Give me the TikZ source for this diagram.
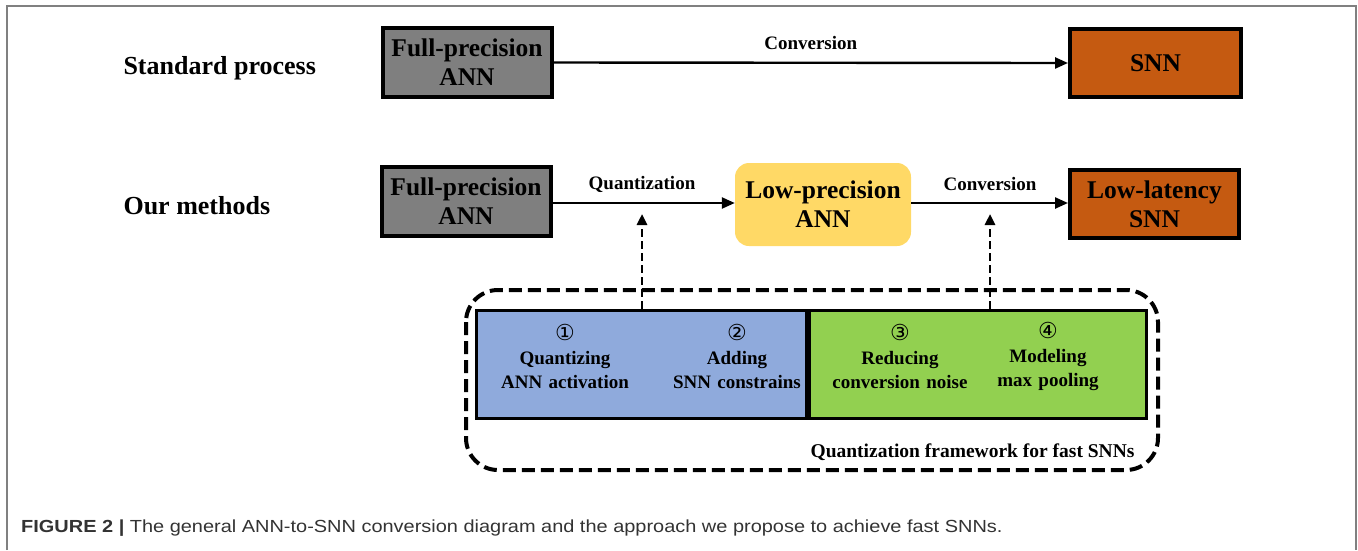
\documentclass[tikz,border=0pt]{standalone}
\usepackage{fontspec}
\setmainfont{Liberation Serif}
\newfontfamily\capfont{Liberation Sans}
\newfontfamily\symfont{DejaVu Sans}
\usetikzlibrary{arrows.meta,positioning}

\definecolor{fpgray}{HTML}{7F7F7F}
\definecolor{snnorange}{HTML}{C55A11}
\definecolor{lpyellow}{HTML}{FFD966}
\definecolor{stepblue}{HTML}{8FAADC}
\definecolor{stepgreen}{HTML}{92D050}
\definecolor{captext}{HTML}{333333}

\newcommand{\stepnum}[1]{{\symfont\mdseries\fontsize{22}{24}\selectfont #1}}

\tikzset{
  bigtext/.style={font=\bfseries\fontsize{25.5}{29}\selectfont, align=center},
  rowtext/.style={font=\bfseries\fontsize{26}{29}\selectfont},
  smalltext/.style={font=\bfseries\fontsize{19}{24}\selectfont, align=center},
  stagebox/.style={draw=black, line width=4pt, bigtext, inner sep=0pt},
  flow/.style={line width=2.4pt, -{Triangle[length=13pt,width=11pt]}},
  hint/.style={line width=2.6pt, dash pattern=on 8pt off 4pt, -{Triangle[length=11pt,width=10pt]}},
  steplabel/.style={smalltext, text width=180pt},
}

\begin{document}
\begin{tikzpicture}[x=1pt,y=-1pt]
\useasboundingbox (0,0) rectangle (1358,550);
% outer frame
\draw[gray, line width=2pt] (7,550) -- (7,6) -- (1356,6) -- (1356,550);

% row titles
\node[rowtext, anchor=west] (stdlbl) at (120,68) {Standard process};
\node[rowtext, anchor=west] (ourlbl) at (120,206) {Our methods};

% standard process
\node[stagebox, fill=fpgray, minimum width=169pt, minimum height=69pt] (fp1) at (467,62.5) {Full-precision\\ANN};
\node[stagebox, fill=snnorange, minimum width=171pt, minimum height=68pt] (snn1) at (1155.5,63) {SNN};
\draw[flow] (fp1.east) -- node[smalltext, above=9pt] (conv1) {Conversion} (snn1.west);

% proposed pipeline
\node[stagebox, fill=fpgray, minimum width=169pt, minimum height=69pt] (fp2) at (466,201.5) {Full-precision\\ANN};
\node[bigtext, fill=lpyellow, rounded corners=14pt, minimum width=176pt, minimum height=83pt, inner sep=0pt] (lp) at (823,204.5) {Low-precision\\ANN};
\node[stagebox, fill=snnorange, minimum width=169pt, minimum height=68pt] (snn2) at (1154.5,204) {Low-latency\\SNN};
\draw[flow] (fp2.east |- 0,203) coordinate (qs) -- (lp.west |- qs) coordinate (qe);
\node[smalltext] (quant) at (642,184) {Quantization};
\draw[flow] (lp.east |- 0,203) coordinate (cs) -- (snn2.west |- cs) coordinate (ce);
\node[smalltext] (conv2) at (990,184) {Conversion};

% framework
\draw[line width=4pt, dash pattern=on 13pt off 6pt, rounded corners=32pt] (466,290) rectangle (1158,470);
\node[draw=black, line width=3pt, fill=stepblue, minimum width=330pt, minimum height=108pt, anchor=east] (blue) at (808,364) {};
\node[draw=black, line width=3pt, fill=stepgreen, minimum width=337pt, minimum height=108pt, anchor=west] (green) at (808,364) {};

\node[steplabel] (s1) at (565,356) {\stepnum{①}\\Quantizing\\ANN activation};
\node[steplabel] (s2) at (737,356) {\stepnum{②}\\Adding\\SNN constrains};
\node[steplabel] (s3) at (900,356) {\stepnum{③}\\Reducing\\conversion noise};
\node[steplabel] (s4) at (1048,356) {\stepnum{④}\\Modeling\\max pooling};

\node[smalltext, font=\bfseries\fontsize{19.5}{24}\selectfont, anchor=east] (fw) at (1138,452) {Quantization framework for fast SNNs};

% feedback into the two transformations
\coordinate (t1) at (642,214);
\coordinate (t2) at (990,214);
\draw[hint] (t1 |- blue.north) -- (t1);
\draw[hint] (t2 |- green.north) -- (t2);

% caption
\node[anchor=west, inner sep=0pt, text=captext, font=\capfont\fontsize{17.5}{20}\selectfont, xscale=1.14] (cap) at (21,528)
  {\textbf{FIGURE 2 |} The general ANN-to-SNN conversion diagram and the approach we propose to achieve fast SNNs.};
\end{tikzpicture}
\end{document}
